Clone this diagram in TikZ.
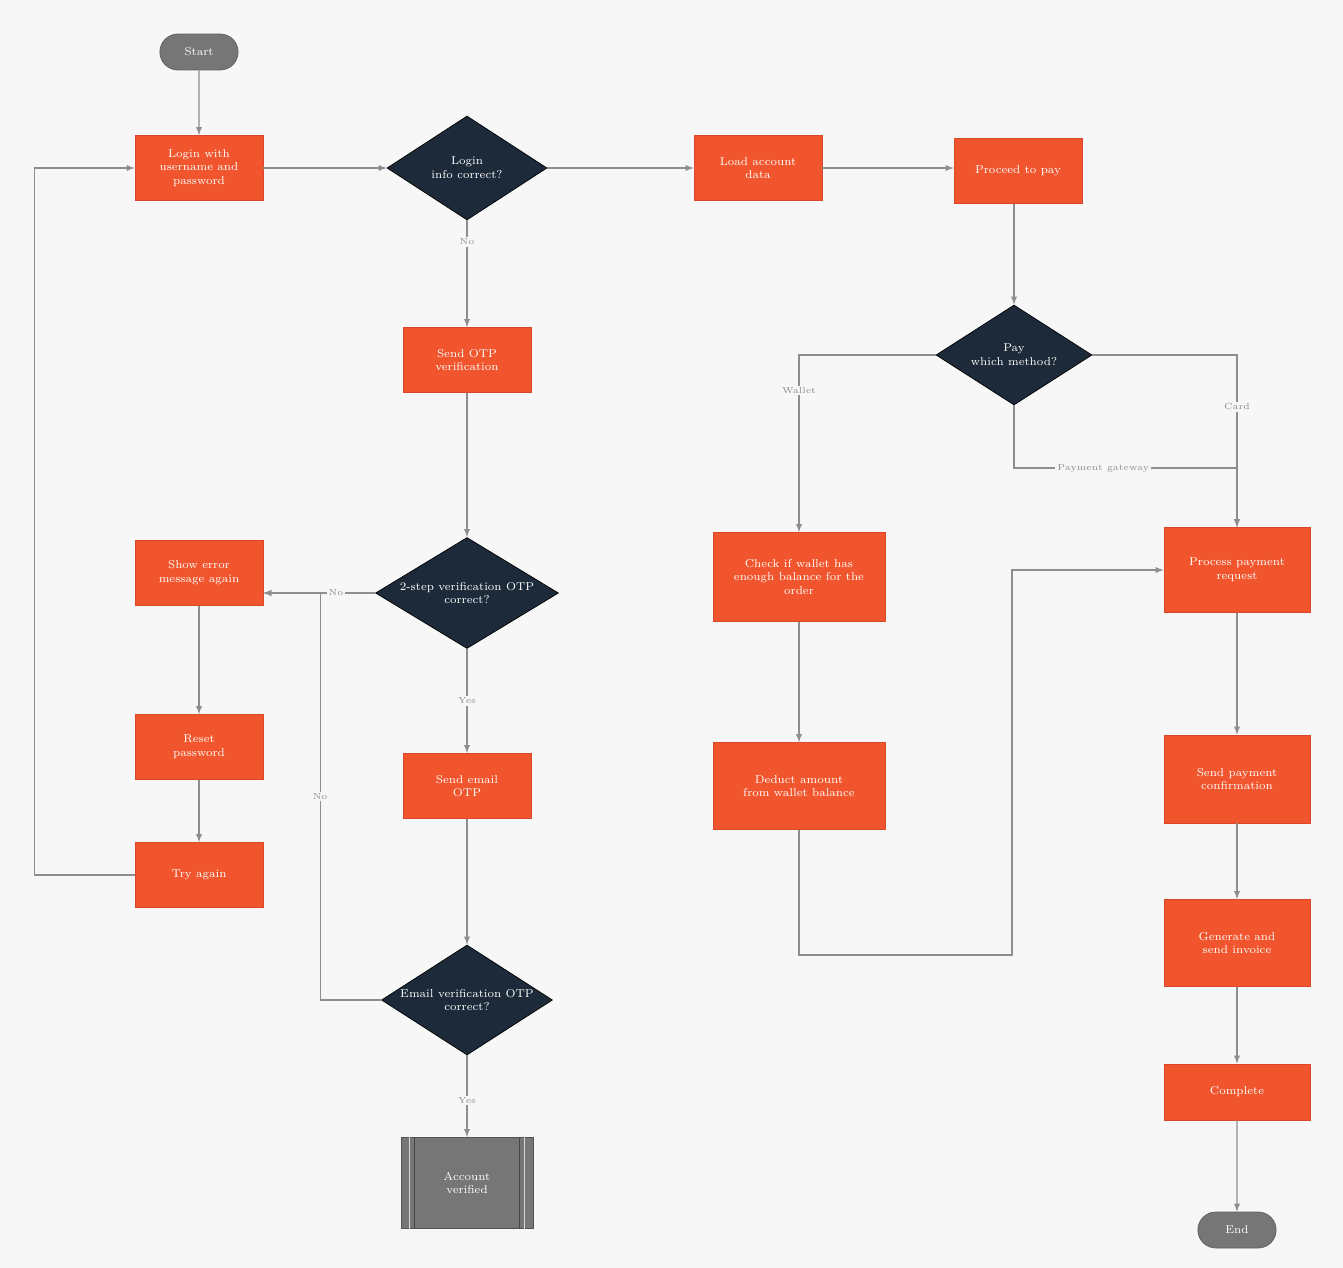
\documentclass[tikz,border=0pt]{standalone}
\usepackage{tikz}
\usetikzlibrary{arrows,shapes.geometric,shapes.misc}

\definecolor{boxred}{HTML}{F1552D}
\definecolor{boxedge}{HTML}{D9482A}
\definecolor{decnavy}{HTML}{1D2A3A}
\definecolor{termgray}{HTML}{767676}
\definecolor{linegray}{HTML}{8E8E8E}
\definecolor{bgcol}{HTML}{F7F7F7}

\tikzset{
  stepbox/.style={draw=boxedge, fill=boxred, text=white, align=center,
    minimum width=2.56cm, minimum height=1.3cm, inner sep=1pt,
    font=\fontsize{6.5}{7.8}\selectfont},
  decision/.style={diamond, draw=black, fill=decnavy, inner sep=0pt,
    minimum width=3.2cm, minimum height=2.08cm},
  dectext/.style={text=white, align=center, font=\fontsize{6.5}{7.8}\selectfont},
  terminal/.style={rounded rectangle, fill=termgray, draw=termgray!80!black,
    text=white, minimum width=1.8cm, minimum height=0.72cm,
    font=\fontsize{6.5}{7.8}\selectfont},
  procbox/.style={draw=termgray!70!black, fill=termgray, text=white, align=center,
    minimum width=2.64cm, minimum height=1.82cm, font=\fontsize{6.5}{7.8}\selectfont},
  flow/.style={->, >=latex, draw=linegray, line width=0.6pt},
  tag/.style={fill=bgcol, text=linegray, inner sep=1pt, font=\fontsize{5}{6}\selectfont},
}

\begin{document}
\begin{tikzpicture}[x=0.02cm, y=-0.02cm]
  \fill[bgcol] (0,0) rectangle (1343,1268);
  \useasboundingbox (0,0) rectangle (1343,1268);

  % left column
  \node[terminal] (start) at (199,52) {Start};
  \node[stepbox] (login) at (199,168) {Login with\\username and\\password};
  \node[stepbox] (retry) at (199,573) {Show error\\message again};
  \node[stepbox] (reset) at (199,747) {Reset\\password};
  \node[stepbox] (again) at (199,875) {Try again};

  % middle column
  \node[decision] (chklogin) at (467,168) {};
  \node[dectext] at (chklogin) {Login\\info correct?};
  \node[stepbox] (sendotp) at (467,360) {Send OTP\\verification};
  \node[decision, minimum width=3.66cm, minimum height=2.22cm] (chkotp) at (467,593) {};
  \node[dectext] at (chkotp) {2-step verification OTP\\correct?};
  \node[stepbox] (mailotp) at (467,786) {Send email\\OTP};
  \node[decision, minimum width=3.42cm, minimum height=2.2cm] (chkmail) at (467,1000) {};
  \node[dectext] at (chkmail) {Email verification OTP\\correct?};
  \node[procbox] (verified) at (467,1183) {Account\\verified};
  \draw[white!85!black] ([xshift=5pt]verified.north west) -- ([xshift=5pt]verified.south west)
                        ([xshift=-5pt]verified.north east) -- ([xshift=-5pt]verified.south east);
  \draw[termgray!60!black] ([xshift=8pt]verified.north west) -- ([xshift=8pt]verified.south west)
                           ([xshift=-8pt]verified.north east) -- ([xshift=-8pt]verified.south east);

  % top row and right part
  \node[stepbox] (account) at (758,168) {Load account\\data};
  \node[stepbox] (topay) at (1018,171) {Proceed to pay};
  \node[decision, minimum width=3.12cm, minimum height=2cm] (paywith) at (1014,355) {};
  \node[dectext] at (paywith) {Pay\\which method?};
  \node[stepbox, minimum width=3.44cm, minimum height=1.78cm] (wallet) at (799,577)
    {Check if wallet has\\enough balance for the\\order};
  \node[stepbox, minimum width=3.44cm, minimum height=1.74cm] (deduct) at (799,786)
    {Deduct amount\\from wallet balance};
  \node[stepbox, minimum width=2.92cm, minimum height=1.7cm] (process) at (1237,570)
    {Process payment\\request};
  \node[stepbox, minimum width=2.92cm, minimum height=1.76cm] (confirm) at (1237,779)
    {Send payment\\confirmation};
  \node[stepbox, minimum width=2.92cm, minimum height=1.74cm] (invoice) at (1237,943)
    {Generate and\\send invoice};
  \node[stepbox, minimum width=2.92cm, minimum height=1.12cm] (complete) at (1237,1092) {Complete};
  \node[terminal] (end) at (1237,1230) {End};

  % connectors
  \draw[flow] (start) -- (login);
  \draw[flow] (login) -- (chklogin);
  \draw[flow] (chklogin) -- (account);
  \draw[flow] (account.east) -- (account.east -| topay.west);
  \draw[flow] (topay.south -| paywith.north) -- (paywith);
  \draw[flow] (chklogin) -- node[tag, pos=0.2] {No} (sendotp);
  \draw[flow] (sendotp) -- (chkotp);
  \draw[flow] (chkotp.west) -- node[tag, pos=0.35] {No} (chkotp.west -| retry.east);
  \draw[flow] (chkotp) -- node[tag, pos=0.5] {Yes} (mailotp);
  \draw[flow] (retry) -- (reset);
  \draw[flow] (reset) -- (again);
  \draw[flow] (again.west) -- ++(-100,0) |- (login.west);
  \draw[flow] (mailotp) -- (chkmail);
  \draw[flow] (chkmail.west) -- ++(-61,0) -- node[tag] {No} ++(0,-407) -- (chkotp.west -| retry.east);
  \draw[flow] (chkmail) -- node[tag, pos=0.55] {Yes} (verified);

  \draw[flow] (paywith.west) -| node[tag, pos=0.6] {Wallet} (wallet.north);
  \draw[flow] (paywith.east) -| node[tag, pos=0.65] {Card} (process.north);
  \draw[flow] (paywith.south) |- node[tag, pos=0.7] {Payment gateway} (process.north |- 0,468) -- (process.north);
  \draw[flow] (wallet) -- (deduct);
  \draw[flow] (deduct.south) |- (1012,955) |- (process.west);
  \draw[flow] (process) -- (confirm);
  \draw[flow] (confirm) -- (invoice);
  \draw[flow] (invoice) -- (complete);
  \draw[flow] (complete) -- (end);
\end{tikzpicture}
\end{document}
